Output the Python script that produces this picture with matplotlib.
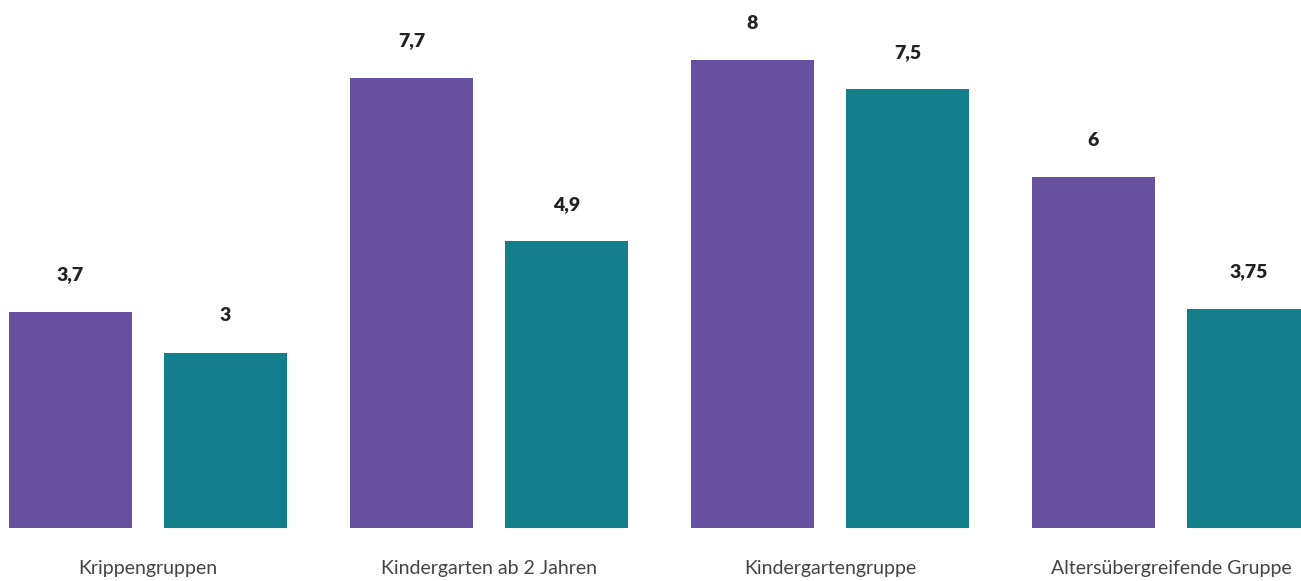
import matplotlib
matplotlib.use("Agg")
import matplotlib.pyplot as plt
import numpy as np

categories = ["Krippengruppen", "Kindergarten ab 2 Jahren", "Kindergartengruppe", "Altersübergreifende Gruppe"]
series_a = [3.7, 7.7, 8, 6]
series_b = [3, 4.9, 7.5, 3.75]
labels_a = ["3,7", "7,7", "8", "6"]
labels_b = ["3", "4,9", "7,5", "3,75"]

purple = "#67509F"
teal = "#137E8C"
text_color = "#222222"

fig = plt.figure(figsize=(13.01, 5.81), dpi=100)
ax = fig.add_axes([0, 53/581, 1, 528/581])

x = np.arange(len(categories))
w = 123/341
off = (123+32)/2/341
ba = ax.bar(x - off, series_a, width=w, color=purple)
bb = ax.bar(x + off, series_b, width=w, color=teal)

for bars, labs in ((ba, labels_a), (bb, labels_b)):
    for b, l in zip(bars, labs):
        ax.annotate(l, (b.get_x() + b.get_width()/2, b.get_height()),
                    xytext=(0, 26.5), textcoords="offset points",
                    ha="center", va="center", fontsize=14, fontweight="heavy",
                    color=text_color, family=["Lato", "DejaVu Sans"])

for xi, c in zip(x, categories):
    ax.annotate(c, (xi, 0), xytext=(0, -29), textcoords="offset points",
                ha="center", va="center", fontsize=14, fontweight="normal",
                color="#444444",
                family=["Lato", "DejaVu Sans"], annotation_clip=False)

ax.set_xlim(-148/341, (1301-148)/341)
ax.set_ylim(0, 528/58.5)
ax.axis("off")

fig.savefig("out.png", dpi=100)
